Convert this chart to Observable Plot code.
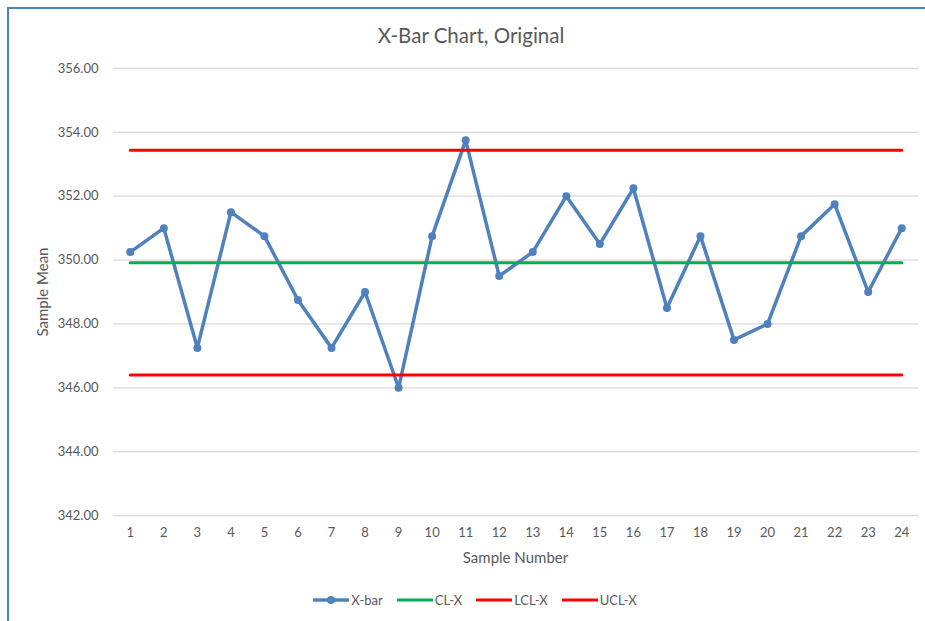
<!DOCTYPE html>
<html>
<head>
<meta charset="utf-8">
<script src="https://cdn.jsdelivr.net/npm/d3@7"></script>
<script src="https://cdn.jsdelivr.net/npm/@observablehq/plot@0.6"></script>
<style>
  html, body { margin: 0; padding: 0; background: #fff; }
  #wrap { position: relative; width: 925px; height: 621px; overflow: hidden; font-family: Lato, "Open Sans", sans-serif; color: #595959; }
  #frame { position: absolute; left: 7px; top: 7px; width: 1000px; height: 800px; border-left: 2px solid #4f81bd; border-top: 2px solid #4f81bd; }
  #chart { position: absolute; left: 0; top: 0; }
  .t { position: absolute; white-space: nowrap; line-height: 1; }
  #title { left: 0; width: 942px; text-align: center; top: 25px; font-size: 20.5px; }
  #xtitle { left: 0; width: 1031px; text-align: center; top: 550px; font-size: 15px; }
  #ytitle { left: 42px; top: 292px; font-size: 15px; transform: translate(-50%, -50%) rotate(-90deg); }
  #legend { position: absolute; left: 0; width: 950px; top: 592px; display: flex; justify-content: center; gap: 0; font-size: 13px; }
  .item { display: flex; align-items: center; margin: 0 7px; }
  .item svg { margin-right: 2px; }
</style>
</head>
<body>
<div id="wrap">
  <div id="frame"></div>
  <div id="chart"></div>
  <div class="t" id="title">X-Bar Chart, Original</div>
  <div class="t" id="xtitle">Sample Number</div>
  <div class="t" id="ytitle">Sample Mean</div>
  <div id="legend"></div>
</div>
<script>
// ---- data ----
const samples = [1, 2, 3, 4, 5, 6, 7, 8, 9, 10, 11, 12, 13, 14, 15, 16, 17, 18, 19, 20, 21, 22, 23, 24];
const xbar = [350.25, 351.0, 347.25, 351.5, 350.75, 348.75, 347.25, 349.0, 346.0, 350.75, 353.75, 349.5,
              350.25, 352.0, 350.5, 352.25, 348.5, 350.75, 347.5, 348.0, 350.75, 351.75, 349.0, 351.0];
const clX = 349.92;
const lclX = 346.40;
const uclX = 353.44;
const yTicks = [342, 344, 346, 348, 350, 352, 354, 356];
const seriesNames = ["X-bar", "CL-X", "LCL-X", "UCL-X"];
const seriesColors = ["#4f81bd", "#00b050", "#ff0000", "#ff0000"];

// ---- tables ----
const rows = samples.map((s, i) => ({sample: s, xbar: xbar[i], cl: clX, lcl: lclX, ucl: uclX}));

const chart = Plot.plot({
  width: 925,
  height: 575,
  marginTop: 68,
  marginBottom: 60,
  marginLeft: 113,
  marginRight: 7,
  style: {fontFamily: "Lato, 'Open Sans', sans-serif", fontSize: "13px", color: "#595959", background: "transparent"},
  x: {type: "point", domain: samples, padding: 0.5, round: false},
  y: {domain: [342, 356]},
  marks: [
    Plot.gridY(yTicks, {stroke: "#d9d9d9", strokeOpacity: 1, strokeWidth: 1.3}),
    Plot.axisY(yTicks, {tickSize: 0, tickPadding: 15, tickFormat: d3.format(".2f"), label: null, fontSize: 13}),
    Plot.axisX(samples, {tickSize: 0, tickPadding: 12, label: null, fontSize: 13}),
    Plot.line(rows, {x: "sample", y: "xbar", stroke: seriesColors[0], strokeWidth: 3.5, strokeLinejoin: "round"}),
    Plot.dot(rows, {x: "sample", y: "xbar", r: 4, fill: seriesColors[0], stroke: "none"}),
    Plot.line(rows, {x: "sample", y: "cl", stroke: seriesColors[1], strokeWidth: 3}),
    Plot.line(rows, {x: "sample", y: "lcl", stroke: seriesColors[2], strokeWidth: 3}),
    Plot.line(rows, {x: "sample", y: "ucl", stroke: seriesColors[3], strokeWidth: 3})
  ]
});
document.getElementById("chart").appendChild(chart);

// ---- legend ----
const legend = document.getElementById("legend");
seriesNames.forEach((name, i) => {
  const item = document.createElement("div");
  item.className = "item";
  const ns = "http://www.w3.org/2000/svg";
  const sw = document.createElementNS(ns, "svg");
  sw.setAttribute("width", 36); sw.setAttribute("height", 12);
  const ln = document.createElementNS(ns, "line");
  ln.setAttribute("x1", 1); ln.setAttribute("x2", 35); ln.setAttribute("y1", 6); ln.setAttribute("y2", 6);
  ln.setAttribute("stroke", seriesColors[i]); ln.setAttribute("stroke-width", i === 0 ? 3.5 : 3); ln.setAttribute("stroke-linecap", "round");
  sw.appendChild(ln);
  if (i === 0) {
    const c = document.createElementNS(ns, "circle");
    c.setAttribute("cx", 18); c.setAttribute("cy", 6); c.setAttribute("r", 4); c.setAttribute("fill", seriesColors[0]);
    sw.appendChild(c);
  }
  item.appendChild(sw);
  const tx = document.createElement("span");
  tx.textContent = name;
  item.appendChild(tx);
  legend.appendChild(item);
});
</script>
</body>
</html>
